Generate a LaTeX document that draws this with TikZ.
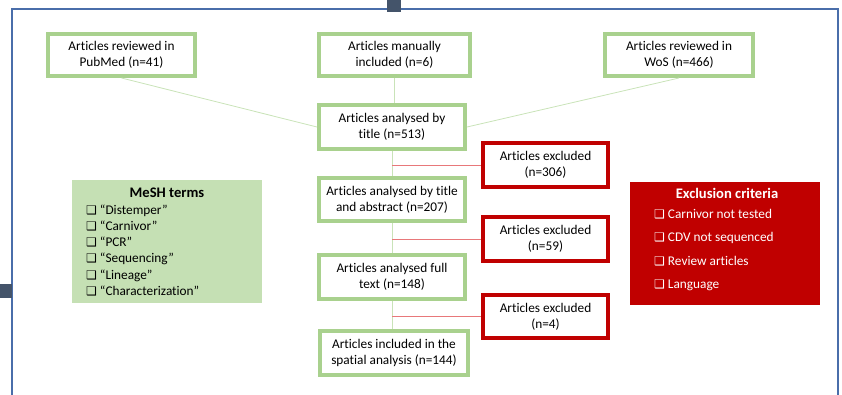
\documentclass[tikz,border=0pt]{standalone}
\usepackage{fontspec}
\setmainfont[Ligatures=NoCommon]{Carlito}
\newfontfamily\symfont{DejaVu Sans}
\definecolor{frameblue}{HTML}{4A6EAA}
\definecolor{handlecol}{HTML}{44546A}
\definecolor{boxgreen}{HTML}{A9D18E}
\definecolor{fillgreen}{HTML}{C5E0B4}
\definecolor{darkred}{HTML}{C00000}
\definecolor{linegreen}{HTML}{C9E3B8}
\definecolor{linered}{HTML}{E8787A}
\newcommand{\cbx}{{\symfont\fontsize{12}{12}\selectfont ❑}}
\begin{document}
\begin{tikzpicture}[x=1pt,y=-1pt,
  txt/.style={font=\fontsize{13.3}{16.3}\selectfont, align=center, inner sep=0pt},
  gbox/.style={txt, draw=boxgreen, line width=4pt, fill=white},
  rbox/.style={txt, draw=darkred, line width=4pt, fill=white},
  gline/.style={draw=linegreen, line width=0.8pt},
  rline/.style={draw=linered, line width=0.9pt},
  listtxt/.style={align=left, inner sep=0pt, anchor=north west}]
\useasboundingbox (0,0) rectangle (842,394);
% frame and handles
\draw[frameblue, line width=2pt] (11.5,396) -- (11.5,9) -- (838,9) -- (838,396);
\fill[handlecol] (387,0) rectangle (401,12);
\fill[handlecol] (0,284) rectangle (12,298);

% flow boxes
\node[gbox, minimum width=147pt, minimum height=42pt] (pub) at (121.5,55) {Articles reviewed in\\PubMed (n=41)};
\node[gbox, minimum width=151pt, minimum height=42pt] (man) at (394.5,55) {Articles manually\\included (n=6)};
\node[gbox, minimum width=148pt, minimum height=42pt] (wos) at (679,55) {Articles reviewed in\\WoS (n=466)};
\node[gbox, minimum width=146pt, minimum height=44pt] (t1) at (392,127) {Articles analysed by\\title (n=513)};
\node[gbox, minimum width=146pt, minimum height=43pt] (t2) at (392,199.5) {Articles analysed by title\\and abstract (n=207)};
\node[gbox, minimum width=146pt, minimum height=44pt] (t3) at (392,277) {Articles analysed full\\text (n=148)};
\node[gbox, minimum width=148pt, minimum height=44pt] (t4) at (394,353) {Articles included in the\\spatial analysis (n=144)};
\node[rbox, minimum width=125pt, minimum height=44pt] (e1) at (545.5,165) {Articles excluded\\(n=306)};
\node[rbox, minimum width=125pt, minimum height=44pt] (e2) at (545.5,239) {Articles excluded\\(n=59)};
\node[rbox, minimum width=125pt, minimum height=43pt] (e3) at (545.5,316.5) {Articles excluded\\(n=4)};

% connectors
\draw[gline] (pub.south) -- (t1.west);
\draw[gline] (wos.south) -- (t1.east);
\draw[gline] (man.south) -- (man.south |- t1.north);
\draw[gline] (t1.south) -- (t2.north);
\draw[gline] (t2.south) -- (t3.north);
\draw[gline] (t3.south) -- (t3.south |- t4.north);
\coordinate (b1) at (t1.south |- e1.west);
\coordinate (b2) at (t2.south |- e2.west);
\coordinate (b3) at (t3.south |- e3.west);
\draw[rline] (b1) -- (e1.west);
\draw[rline] (b2) -- (e2.west);
\draw[rline] (b3) -- (e3.west);

% MeSH terms box
\node[fill=fillgreen, minimum width=190pt, minimum height=123pt, inner sep=0pt] (mesh) at (167,241.5) {};
\node[font=\bfseries\fontsize{14.6}{16}\selectfont, inner sep=0pt] (meshT) at (167,192.5) {MeSH terms};
\node[listtxt, font=\fontsize{13.3}{16.2}\selectfont] (meshL) at (86,204.5) {\cbx{} “Distemper”\\\cbx{} “Carnivor”\\\cbx{} “PCR”\\\cbx{} “Sequencing”\\\cbx{} “Lineage”\\\cbx{} “Characterization”};

% Exclusion criteria box
\node[fill=darkred, minimum width=190pt, minimum height=123pt, inner sep=0pt] (excl) at (725,243.5) {};
\node[font=\bfseries\fontsize{14.6}{16}\selectfont, text=white, inner sep=0pt] (exclT) at (727,193) {Exclusion criteria};
\node[listtxt, text=white, font=\fontsize{13.3}{23.3}\selectfont] (exclL) at (654,209) {\cbx{} Carnivor not tested\\\cbx{} CDV not sequenced\\\cbx{} Review articles\\\cbx{} Language};
\end{tikzpicture}
\end{document}
